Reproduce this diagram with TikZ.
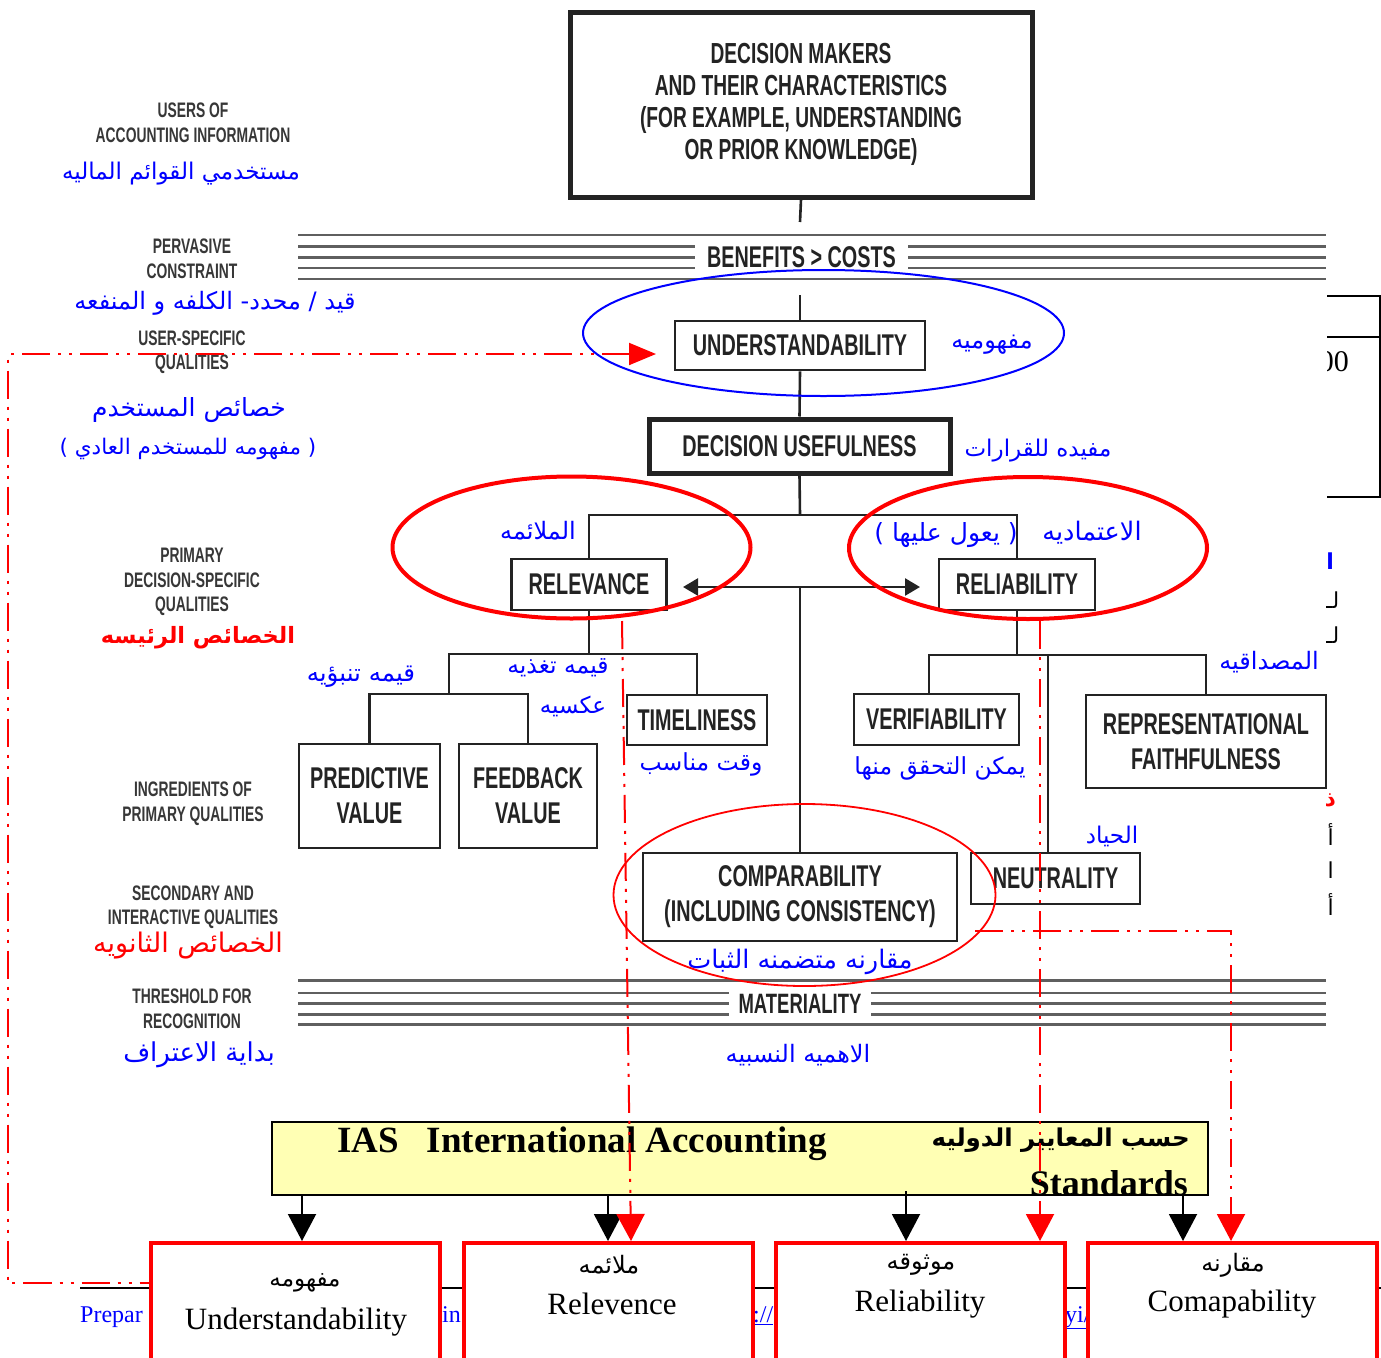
\documentclass[tikz,border=0pt]{standalone}
\usepackage{fontspec}
\usetikzlibrary{arrows.meta}
\TeXXeTstate=1
\setmainfont{Liberation Serif}
\newfontfamily\cnd[FakeStretch=0.66]{Liberation Sans}
\newfontfamily\arabicfont[Script=Arabic]{DejaVu Sans}
\newcommand{\artxt}[1]{{\arabicfont\beginR #1\endR}}
\newcommand{\fs}[1]{\fontsize{#1}{#1}\selectfont}
\definecolor{ink}{RGB}{35,35,35}
\definecolor{lbl}{RGB}{55,55,55}
\definecolor{bandc}{RGB}{95,95,95}
\definecolor{iasfill}{RGB}{255,255,180}
\definecolor{pblue}{RGB}{0,0,255}
\definecolor{pred}{RGB}{255,0,0}
\begin{document}
\begin{tikzpicture}[x=1pt,y=-1pt,
  box/.style={draw=ink, line width=2.6pt, fill=white, inner sep=0pt, align=center,
    text=ink, font=\cnd\bfseries\fontsize{30}{35}\selectfont},
  side/.style={inner sep=0pt, align=center, text=lbl, font=\cnd\bfseries\fontsize{21}{24.5}\selectfont},
  ar/.style={inner sep=0pt, text=pblue, font=\fs{24}},
  arred/.style={ar, text=pred},
  tree/.style={draw=ink, line width=2.6pt},
  bandline/.style={draw=bandc, line width=2.2pt},
  bandtext/.style={fill=white, inner xsep=12pt, inner ysep=0pt, minimum height=30pt, text=ink,
    font=\cnd\bfseries\fontsize{30}{35}\selectfont},
  reddd/.style={draw=pred, line width=2pt, dash pattern=on 28pt off 8pt on 3pt off 8pt on 3pt off 8pt},
  redtip/.style={-{Triangle[length=27pt,width=28pt]}},
  blkarr/.style={draw=black, line width=2pt, -{Triangle[length=27pt,width=28pt]}},
  outbox/.style={draw=pred, line width=4pt, fill=white, minimum width=289pt, minimum height=170pt, inner sep=0pt},
  outen/.style={inner sep=0pt, font=\fontsize{31}{36}\selectfont},
  outar/.style={inner sep=0pt, font=\fs{24}},
  frag/.style={inner sep=0pt, anchor=base west, text=pblue, font=\fontsize{24}{28}\selectfont},
]
\clip (0,0) rectangle (1381,1357);
\fill[white] (0,0) rectangle (1381,1357);

% ---------- side captions ----------
\node[side] (cUsers) at (193,123) {USERS OF\\ACCOUNTING INFORMATION};
\node[side] (cPerv) at (192,259) {PERVASIVE\\CONSTRAINT};
\node[side] (cUser) at (192,352) {USER-SPECIFIC\\QUALITIES};
\node[side] (cPrim) at (192,582) {PRIMARY\\DECISION-SPECIFIC\\QUALITIES};
\node[side] (cIngr) at (193,803.5) {INGREDIENTS OF\\PRIMARY QUALITIES};
\node[side] (cSec) at (193,907) {SECONDARY AND\\INTERACTIVE QUALITIES};
\node[side] (cThr) at (192,1009) {THRESHOLD FOR\\RECOGNITION};

\node[ar, font=\fs{23}] (aUsers) at (181,174) {\artxt{مستخدمي القوائم الماليه}};
\node[ar] (aPerv) at (215,303) {\artxt{قيد / محدد-  الكلفه و المنفعه}};
\node[ar, font=\fs{25}] (aUser1) at (189,410) {\artxt{خصائص المستخدم}};
\node[ar, font=\fs{21.5}] (aUser2) at (188,449) {\artxt{( مفهومه للمستخدم العادي )}};
\node[arred, font=\bfseries\fs{22.5}] (aPrim) at (198,638) {\artxt{الخصائص الرئيسه}};
\node[arred, font=\fs{27}] (aSec) at (188,946) {\artxt{الخصائص الثانويه}};
\node[ar, font=\fs{26}] (aThr) at (199,1055) {\artxt{بداية الاعتراف}};

% ---------- horizontal bands ----------
\foreach \yy in {235,246.5,257.5,268,279} \draw[bandline] (298,\yy) -- (1326,\yy);
\node[bandtext] (benefit) at (801.5,257.5) {BENEFITS > COSTS};
\foreach \yy in {980.5,993,1003.5,1014.5,1024.5} \draw[bandline] (298,\yy) -- (1326,\yy);
\node[bandtext, inner xsep=10pt, font=\cnd\bfseries\fontsize{28}{33}\selectfont] (mat) at (800,1003.7) {MATERIALITY};

% ---------- boxes of the hierarchy ----------
\node[box, line width=5pt, minimum width=462pt, minimum height=185pt,
  font=\cnd\bfseries\fontsize{29}{32}\selectfont] (top) at (801,104.5)
  {DECISION MAKERS\\AND THEIR CHARACTERISTICS\\(FOR EXAMPLE, UNDERSTANDING\\OR PRIOR KNOWLEDGE)};
\node[box, minimum width=250pt, minimum height=49pt] (und) at (800,345.5) {UNDERSTANDABILITY};
\node[box, line width=5pt, minimum width=301pt, minimum height=54pt] (du) at (799.5,446) {DECISION USEFULNESS};
\node[box, minimum width=155pt, minimum height=51pt] (rel) at (589,584.5) {RELEVANCE};
\node[box, minimum width=156pt, minimum height=51pt] (reli) at (1017,584.5) {RELIABILITY};
\node[box, minimum width=141pt, minimum height=104pt] (pred) at (369.5,796) {PREDICTIVE\\VALUE};
\node[box, minimum width=138pt, minimum height=104pt] (feed) at (528,796) {FEEDBACK\\VALUE};
\node[box, minimum width=140pt, minimum height=50pt] (time) at (697,720) {TIMELINESS};
\node[box, minimum width=165pt, minimum height=51pt] (veri) at (936.5,719.5) {VERIFIABILITY};
\node[box, minimum width=240pt, minimum height=93pt] (repf) at (1206,741.5) {REPRESENTATIONAL\\FAITHFULNESS};
\node[box, minimum width=169pt, minimum height=51pt] (neut) at (1055.5,878.5) {NEUTRALITY};
\node[box, minimum width=314pt, minimum height=88pt] (comp) at (800,897) {COMPARABILITY\\(INCLUDING CONSISTENCY)};

% ---------- tree connectors ----------
\coordinate (tb) at (800,222);
\coordinate (ua) at (800,295);
\coordinate (j1) at (800,515);
\coordinate (j2) at (800,587);
\coordinate (al) at (683,587);
\coordinate (arr) at (920,587);
\coordinate (rj) at (589,654);
\coordinate (pj) at (449,694);
\coordinate (lj) at (1017,655);
\coordinate (vj) at ([xshift=-7.5pt]veri.north);
\coordinate (nj) at (1048,655);
\draw[tree] (top.south) -- (tb);
\draw[tree] (ua) -- (und.north);
\draw[tree] (und.south) -- (du.north);
\draw[tree] (du.south) -- (j1);
\draw[tree] (rel.north) |- (j1) -| (reli.north);
\draw[tree, {Triangle[length=15pt,width=17pt]}-{Triangle[length=15pt,width=17pt]}] (al) -- (arr);
\draw[tree] (j2) -- (comp.north);
\draw[tree] (rel.south) -- (rj);
\draw[tree] (pj) |- (rj) -| (time.north);
\draw[tree] (pred.north) |- (pj) -| (feed.north);
\draw[tree] (reli.south) -- (lj);
\draw[tree] (vj) |- (lj) -| (repf.north);
\draw[tree] (nj) -- (nj |- neut.north);

% ---------- Arabic glosses ----------
\node[ar] (gUnd) at (992,345) {\artxt{مفهوميه}};
\node[ar, font=\fs{23}] (gDU) at (1038,451) {\artxt{مفيده للقرارات}};
\node[ar] (gRel) at (538,531) {\artxt{الملائمه}};
\node[ar, font=\fs{25.5}] (gReli) at (1092,533) {\artxt{الاعتماديه}};
\node[ar, font=\fs{25}] (gReli2) at (946,535) {\artxt{( يعول عليها )}};
\node[ar, font=\fs{24.5}] (gPred) at (361,677) {\artxt{قيمه تنبؤيه}};
\node[ar, font=\fs{23.5}] (gFeed1) at (558,668) {\artxt{قيمه تغذيه}};
\node[ar, font=\fs{23}] (gFeed2) at (573,706) {\artxt{عكسيه}};
\node[ar, font=\fs{23.5}] (gTime) at (701,764) {\artxt{وقت مناسب}};
\node[ar, font=\fs{23.5}] (gVeri) at (940,768) {\artxt{يمكن التحقق منها}};
\node[ar] (gRepf) at (1269,662) {\artxt{المصداقيه}};
\node[ar, font=\fs{23}] (gNeut) at (1112,836) {\artxt{الحياد}};
\node[ar, font=\fs{25.5}] (gComp) at (800,962) {\artxt{مقارنه  متضمنه الثبات}};
\node[ar] (gMat) at (798,1055) {\artxt{الاهميه النسبيه}};

% ---------- highlight ellipses ----------
\draw[pblue, line width=2pt] (823.5,333) ellipse [x radius=240.5pt, y radius=63pt];
\draw[pred, line width=4pt] (571.5,547.5) ellipse [x radius=179pt, y radius=71pt];
\draw[pred, line width=4pt] (1028,548) ellipse [x radius=179pt, y radius=71pt];
\draw[pred, line width=1.8pt] (804.5,895) ellipse [x radius=191pt, y radius=91pt];

% ---------- fragment of a neighbouring table (right edge) ----------
\draw[black, line width=2pt] (1327,296) -- (1380,296) -- (1380,497) -- (1327,497);
\draw[black, line width=2pt] (1327,337) -- (1380,337);
\begin{scope}
  \clip (1327,300) rectangle (1381,490);
  \node[anchor=base east, inner sep=0pt, font=\fontsize{30}{34}\selectfont] (zz) at (1349,371) {00};
\end{scope}
\begin{scope}
  \clip (1326,540) rectangle (1345,925);
  \node[anchor=east, inner sep=0pt, text=pblue, font=\bfseries\fs{22}] (f1) at (1334,561) {\artxt{ا}};
  \node[anchor=west, inner sep=0pt, font=\fs{22}] (f2) at (1326,600) {\artxt{لـ}};
  \node[anchor=west, inner sep=0pt, font=\fs{22}] (f3) at (1326,635) {\artxt{لـ}};
  \node[anchor=east, inner sep=0pt, text=pred, font=\bfseries\fs{22}] (f4) at (1336,800) {\artxt{ذ}};
  \node[anchor=east, inner sep=0pt, font=\fs{22}] (f5) at (1334,835) {\artxt{أ}};
  \node[anchor=east, inner sep=0pt, font=\fs{22}] (f6) at (1334,870) {\artxt{ا}};
  \node[anchor=east, inner sep=0pt, font=\fs{22}] (f7) at (1334,905) {\artxt{أ}};
\end{scope}

% ---------- IAS banner ----------
\node[draw=black, line width=2pt, fill=iasfill, minimum width=936pt, minimum height=73pt, inner sep=0pt] (ias) at (740,1158.5) {};
\node[anchor=base west, inner sep=0pt, font=\bfseries\fontsize{37}{40}\selectfont] (iasen) at (337,1152) {IAS\hspace{28pt}International Accounting};
\node[anchor=base east, inner sep=0pt, font=\bfseries\fs{24.5}] (iasar) at (1190,1146) {\artxt{حسب المعايير الدوليه}};
\node[anchor=base east, inner sep=0pt, font=\bfseries\fontsize{36}{40}\selectfont] (iasst) at (1188,1195) {Standards};

% ---------- footer behind the summary boxes ----------
\draw[black, line width=1.5pt] (80,1288) -- (1381,1288);
\node[frag] (ft1) at (80,1322) {Prepar};
\node[frag] (ft2) at (442,1322) {in};
\node[frag] (ft3) at (753,1322) {\underline{://}};
\node[frag] (ft4) at (1065,1322) {\underline{yi/}};

% ---------- summary boxes ----------
\node[outbox] (b1) at (295.5,1328) {};
\node[outbox] (b2) at (608,1328) {};
\node[outbox] (b3) at (920,1328) {};
\node[outbox] (b4) at (1232.5,1328) {};
\node[outar, font=\fs{23}] (b1a) at (305,1283) {\artxt{مفهومه}};
\node[outen] (b1e) at (296,1322) {Understandability};
\node[outar] (b2a) at (609,1265) {\artxt{ملائمه}};
\node[outen] (b2e) at (612,1304) {Relevence};
\node[outar] (b3a) at (921,1265) {\artxt{موثوقه}};
\node[outen] (b3e) at (920,1304) {Reliability};
\node[outar] (b4a) at (1233,1265) {\artxt{مقارنه}};
\node[outen] (b4e) at (1232,1304) {Comapability};

% black arrows from the banner
\coordinate (k1) at ([xshift=6.5pt]b1.north);
\coordinate (k2) at (b2.north);
\coordinate (k3) at ([xshift=-14pt]b3.north);
\coordinate (k4) at ([xshift=-49.5pt]b4.north);
\draw[blkarr] (k1 |- ias.south) -- (k1);
\draw[blkarr] (k2 |- ias.south) -- (k2);
\draw[blkarr] ([yshift=5pt]k3 |- ias.south) -- (k3);
\draw[blkarr] (k4 |- ias.south) -- (k4);

% ---------- red dash-dot links ----------
\coordinate (ut) at (656,354);
\coordinate (dl0) at (8,354);
\coordinate (dl1) at (8,1283);
\draw[reddd, {Triangle[length=27pt,width=22pt]}-] (ut) -- (dl0) -- (dl1) -- (dl1 -| b1.west);
\coordinate (r2a) at (622,621);
\coordinate (r2b) at ([xshift=23pt]b2.north);
\draw[reddd, redtip] (r2a) -- (r2b);
\coordinate (r3a) at (1040,621);
\coordinate (r3b) at ([xshift=120pt]b3.north);
\draw[reddd, redtip] (r3a) -- (r3b);
\coordinate (r4a) at (975,931);
\coordinate (r4b) at ([xshift=-1.5pt]b4.north);
\draw[reddd, redtip] (r4a) -| (r4b);
\end{tikzpicture}
\end{document}
